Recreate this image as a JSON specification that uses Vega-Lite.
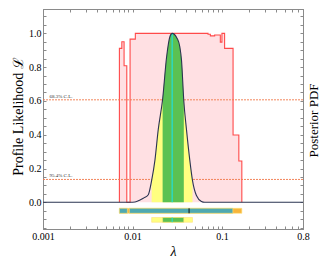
{
  "$schema": "https://vega.github.io/schema/vega-lite/v6.json",
  "width": 260,
  "height": 220,
  "autosize": {"type": "none"},
  "padding": {"left": 43, "top": 9, "right": 27, "bottom": 35},
  "background": "white",
  "config": {
    "font": "Liberation Serif",
    "view": {"stroke": "#8a8a8a", "strokeWidth": 1},
    "axis": {
      "domainColor": "#8a8a8a",
      "tickColor": "#8a8a8a",
      "labelColor": "black",
      "labelFont": "Liberation Serif",
      "labelFontSize": 10,
      "titleFont": "Liberation Serif",
      "titleFontWeight": "normal",
      "titleColor": "black",
      "grid": false
    }
  },
  "resolve": {"axis": {"x": "independent", "y": "independent"}},
  "datasets": {
    "pl": [
      {"lam": 0.00713, "L": 0},
      {"lam": 0.00713, "L": 0.911},
      {"lam": 0.00759, "L": 0.95},
      {"lam": 0.00804, "L": 0.808},
      {"lam": 0.00862, "L": 0},
      {"lam": 0.00938, "L": 0.966},
      {"lam": 0.01074, "L": 1.0},
      {"lam": 0.0696, "L": 0.995},
      {"lam": 0.0739, "L": 0.985},
      {"lam": 0.0825, "L": 0.99},
      {"lam": 0.0955, "L": 0.948},
      {"lam": 0.0995, "L": 1.0},
      {"lam": 0.1066, "L": 0.911},
      {"lam": 0.1325, "L": 0.398},
      {"lam": 0.1537, "L": 0.244},
      {"lam": 0.166, "L": 0},
      {"lam": 0.166, "L": 0}
    ],
    "pdf": [
      {"lam": 0.001, "P": 0},
      {"lam": 0.00938, "P": 0},
      {"lam": 0.01066, "P": 0.002},
      {"lam": 0.01212, "P": 0.014},
      {"lam": 0.01318, "P": 0.024},
      {"lam": 0.01498, "P": 0.045},
      {"lam": 0.01634, "P": 0.13},
      {"lam": 0.01778, "P": 0.25},
      {"lam": 0.01935, "P": 0.43},
      {"lam": 0.02166, "P": 0.61},
      {"lam": 0.02399, "P": 0.86},
      {"lam": 0.0261, "P": 0.98},
      {"lam": 0.02768, "P": 1.0},
      {"lam": 0.03146, "P": 0.97},
      {"lam": 0.03371, "P": 0.92},
      {"lam": 0.03521, "P": 0.84},
      {"lam": 0.03734, "P": 0.6},
      {"lam": 0.04001, "P": 0.43},
      {"lam": 0.04355, "P": 0.25},
      {"lam": 0.04667, "P": 0.13},
      {"lam": 0.05166, "P": 0.04},
      {"lam": 0.05873, "P": 0.005},
      {"lam": 0.0639, "P": 0},
      {"lam": 0.8, "P": 0}
    ],
    "cl": [
      {"lev": 0.6065, "label": "68.3% C.L."},
      {"lev": 0.1353, "label": "95.4% C.L."}
    ],
    "bars": [
      {"row": "PL", "kind": "PL 95%", "lo": 0.00713, "hi": 0.166},
      {"row": "PL", "kind": "PL 68%", "lo": 0.00713, "hi": 0.00875},
      {"row": "PL", "kind": "PL 68%", "lo": 0.00921, "hi": 0.1318},
      {"row": "PDF", "kind": "PDF 95%", "lo": 0.01634, "hi": 0.04667},
      {"row": "PDF", "kind": "PDF 68%", "lo": 0.02166, "hi": 0.03734}
    ],
    "best": [
      {"row": "PL", "lam": 0.04276},
      {"row": "PDF", "lam": 0.02768}
    ],
    "peak": [{"lam": 0.02768, "P": 1.0}]
  },
  "layer": [
    {
      "data": {"name": "pl"},
      "mark": {"type": "area", "interpolate": "step-after", "color": "#ffe0e3"},
      "encoding": {
        "x": {"field": "lam", "type": "quantitative", "sort": null,
          "scale": {"type": "log", "domain": [0.001, 0.8], "nice": false},
          "axis": {
            "orient": "bottom",
            "values": [0.001, 0.002, 0.003, 0.004, 0.005, 0.006, 0.007, 0.008, 0.009, 0.01, 0.02, 0.03, 0.04, 0.05, 0.06, 0.07, 0.08, 0.09, 0.1, 0.2, 0.3, 0.4, 0.5, 0.6, 0.7, 0.8],
            "labelExpr": "indexof([0.001,0.01,0.1,0.8], datum.value) >= 0 ? (datum.value == 0.001 ? '0.001' : datum.value == 0.01 ? '0.01' : datum.value == 0.1 ? '0.1' : '0.8') : ''",
            "tickSize": -3,
            "labelPadding": 5,
            "labelFlush": false,
            "title": "λ",
            "titleFontSize": 14,
            "titleFontStyle": "italic",
            "titleX": 130,
            "titleY": 22,
            "titleBaseline": "middle"
          }},
        "y": {"field": "L", "type": "quantitative",
          "scale": {"domain": [-0.158, 1.144], "nice": false, "zero": false},
          "axis": {
            "orient": "left",
            "values": [-0.15, -0.1, -0.05, 0, 0.05, 0.1, 0.15, 0.2, 0.25, 0.3, 0.35, 0.4, 0.45, 0.5, 0.55, 0.6, 0.65, 0.7, 0.75, 0.8, 0.85, 0.9, 0.95, 1.0, 1.05, 1.1],
            "labelExpr": "indexof([0,0.2,0.4,0.6,0.8,1], datum.value) >= 0 ? format(datum.value, '.1f') : ''",
            "tickSize": -3,
            "labelPadding": 5,
            "title": "Profile Likelihood ℒ",
            "titleFontSize": 14,
            "titleAngle": -90,
            "titleX": -25,
            "titleY": 107,
            "titleAlign": "center",
            "titleBaseline": "middle"
          }},
        "y2": {"datum": 0}
      }
    },
    {
      "data": {"name": "pl"},
      "mark": {"type": "line", "interpolate": "step-after", "color": "#ff4a4a", "strokeWidth": 1.1},
      "encoding": {
        "x": {"field": "lam", "type": "quantitative", "sort": null, "axis": null},
        "y": {"field": "L", "type": "quantitative", "axis": null}
      }
    },
    {
      "data": {"name": "cl"},
      "mark": {"type": "rule", "color": "#f0784a", "strokeDash": [2, 1], "strokeWidth": 0.9},
      "encoding": {
        "y": {"field": "lev", "type": "quantitative", "axis": null}
      }
    },
    {
      "data": {"name": "cl"},
      "mark": {"type": "text", "align": "left", "baseline": "bottom", "fontSize": 5, "dy": -1, "color": "#333333"},
      "encoding": {
        "x": {"datum": 0.00118, "type": "quantitative", "axis": null},
        "y": {"field": "lev", "type": "quantitative", "axis": null},
        "text": {"field": "label", "type": "nominal"}
      }
    },
    {
      "data": {"name": "pdf"},
      "transform": [{"filter": {"field": "lam", "range": [0.01634, 0.04667]}}],
      "mark": {"type": "area", "interpolate": "monotone", "color": "#ffff80"},
      "encoding": {
        "x": {"field": "lam", "type": "quantitative", "axis": null},
        "y": {"field": "P", "type": "quantitative", "axis": null},
        "y2": {"datum": 0}
      }
    },
    {
      "data": {"name": "pdf"},
      "transform": [{"filter": {"field": "lam", "range": [0.02166, 0.03734]}}],
      "mark": {"type": "area", "interpolate": "monotone", "color": "#5bc152"},
      "encoding": {
        "x": {"field": "lam", "type": "quantitative", "axis": null},
        "y": {"field": "P", "type": "quantitative", "axis": null},
        "y2": {"datum": 0}
      }
    },
    {
      "data": {"name": "peak"},
      "mark": {"type": "rule", "color": "#22e0d8", "strokeWidth": 1.2},
      "encoding": {
        "x": {"field": "lam", "type": "quantitative", "axis": null},
        "y": {"field": "P", "type": "quantitative", "axis": null},
        "y2": {"datum": 0}
      }
    },
    {
      "data": {"name": "pdf"},
      "mark": {"type": "line", "interpolate": "monotone", "color": "#2b3452", "strokeWidth": 1.1},
      "encoding": {
        "x": {"field": "lam", "type": "quantitative",
          "axis": {
            "orient": "top",
            "values": [0.001, 0.002, 0.003, 0.004, 0.005, 0.006, 0.007, 0.008, 0.009, 0.01, 0.02, 0.03, 0.04, 0.05, 0.06, 0.07, 0.08, 0.09, 0.1, 0.2, 0.3, 0.4, 0.5, 0.6, 0.7, 0.8],
            "labels": false,
            "tickSize": -3,
            "title": null
          }},
        "y": {"field": "P", "type": "quantitative",
          "axis": {
            "orient": "right",
            "values": [-0.15, -0.1, -0.05, 0, 0.05, 0.1, 0.15, 0.2, 0.25, 0.3, 0.35, 0.4, 0.45, 0.5, 0.55, 0.6, 0.65, 0.7, 0.75, 0.8, 0.85, 0.9, 0.95, 1.0, 1.05, 1.1],
            "labels": false,
            "tickSize": -3,
            "title": "Posterior PDF",
            "titleFontSize": 13,
            "titleAngle": -90,
            "titleX": 10,
            "titleY": 111,
            "titleAlign": "center",
            "titleBaseline": "middle"
          }}
      }
    },
    {
      "data": {"name": "bars"},
      "transform": [{"filter": {"field": "row", "equal": "PL"}}],
      "mark": {"type": "rect", "stroke": "#ffe27a", "strokeWidth": 0.6},
      "encoding": {
        "x": {"field": "lo", "type": "quantitative", "axis": null},
        "x2": {"field": "hi"},
        "y": {"datum": -0.0355, "type": "quantitative", "axis": null},
        "y2": {"datum": -0.065},
        "color": {"field": "kind", "type": "nominal",
          "scale": {"domain": ["PL 95%", "PL 68%", "PDF 95%", "PDF 68%"], "range": ["#f7b53b", "#4fa9b1", "#ffff80", "#5bc152"]},
          "legend": null}
      }
    },
    {
      "data": {"name": "bars"},
      "transform": [{"filter": {"field": "row", "equal": "PDF"}}],
      "mark": {"type": "rect", "stroke": "#ffe27a", "strokeWidth": 0.6},
      "encoding": {
        "x": {"field": "lo", "type": "quantitative", "axis": null},
        "x2": {"field": "hi"},
        "y": {"datum": -0.09, "type": "quantitative", "axis": null},
        "y2": {"datum": -0.118},
        "color": {"field": "kind", "type": "nominal", "legend": null}
      }
    },
    {
      "data": {"name": "best"},
      "transform": [{"filter": {"field": "row", "equal": "PL"}}],
      "mark": {"type": "rule", "color": "#111111", "strokeWidth": 1},
      "encoding": {
        "x": {"field": "lam", "type": "quantitative", "axis": null},
        "y": {"datum": -0.0355, "type": "quantitative", "axis": null},
        "y2": {"datum": -0.065}
      }
    },
    {
      "data": {"name": "best"},
      "transform": [{"filter": {"field": "row", "equal": "PDF"}}],
      "mark": {"type": "rule", "color": "#22e0d8", "strokeWidth": 1},
      "encoding": {
        "x": {"field": "lam", "type": "quantitative", "axis": null},
        "y": {"datum": -0.09, "type": "quantitative", "axis": null},
        "y2": {"datum": -0.118}
      }
    }
  ]
}
